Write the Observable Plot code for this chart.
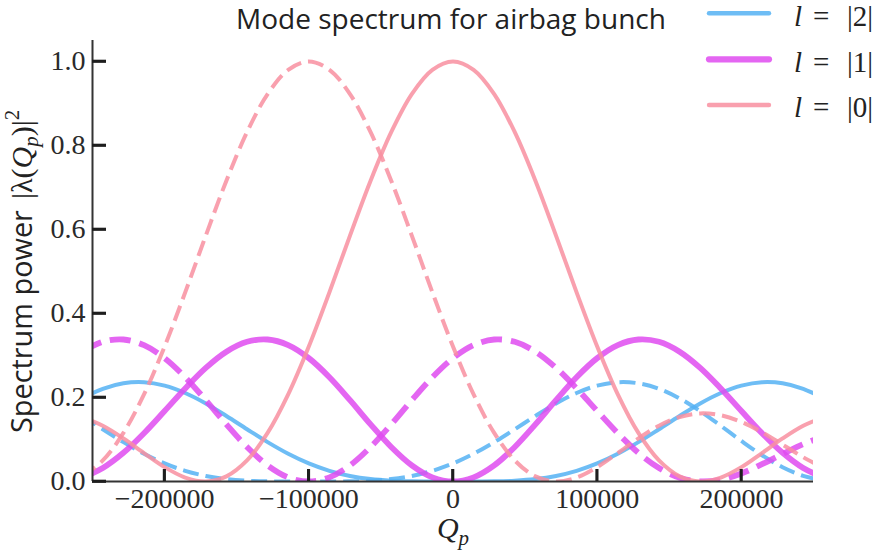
<!DOCTYPE html>
<html><head><meta charset="utf-8">
<script src="https://cdn.jsdelivr.net/npm/d3@7"></script>
<script src="https://cdn.jsdelivr.net/npm/@observablehq/plot@0.6"></script>
<style>body{margin:0;background:#fff;} #chart{width:880px;height:553px;overflow:hidden;}</style>
</head><body><div id="chart"></div>
<script>
// Qp sample positions
const qp = [-257143, -242857, -228571, -214286, -200000, -185714, -171429, -157143, -142857, -128571, -114286, -100000, -85714, -71429, -57143, -42857, -28571, -14286, 0, 14286, 28571, 42857, 57143, 71429, 85714, 100000, 114286, 128571, 142857, 157143, 171429, 185714, 200000, 214286, 228571, 242857, 257143];
// spectrum power, solid curves
const l2Solid = [0.1978, 0.2206, 0.2338, 0.2363, 0.2282, 0.2107, 0.1858, 0.1561, 0.1245, 0.0937, 0.0660, 0.0430, 0.0254, 0.0132, 0.0057, 0.0019, 0.0004, 0.0000, 0, 0.0000, 0.0004, 0.0019, 0.0057, 0.0132, 0.0254, 0.0430, 0.0660, 0.0937, 0.1245, 0.1561, 0.1858, 0.2107, 0.2282, 0.2363, 0.2338, 0.2206, 0.1978];
const l1Solid = [0.0091, 0.0321, 0.0683, 0.1150, 0.1679, 0.2216, 0.2706, 0.3091, 0.3326, 0.3381, 0.3248, 0.2937, 0.2483, 0.1937, 0.1360, 0.0822, 0.0384, 0.0099, 0, 0.0099, 0.0384, 0.0822, 0.1360, 0.1937, 0.2483, 0.2937, 0.3248, 0.3381, 0.3326, 0.3091, 0.2706, 0.2216, 0.1679, 0.1150, 0.0683, 0.0321, 0.0091];
const l0Solid = [0.1535, 0.1327, 0.1025, 0.0677, 0.0342, 0.0094, 0.0000, 0.0122, 0.0501, 0.1156, 0.2074, 0.3214, 0.4504, 0.5855, 0.7162, 0.8317, 0.9224, 0.9801, 1.0000, 0.9801, 0.9224, 0.8317, 0.7162, 0.5855, 0.4504, 0.3214, 0.2074, 0.1156, 0.0501, 0.0122, 0.0000, 0.0094, 0.0342, 0.0677, 0.1025, 0.1327, 0.1535];
// spectrum power, dashed curves
const l2Dashed = [0.1561, 0.1245, 0.0937, 0.0660, 0.0430, 0.0254, 0.0132, 0.0057, 0.0019, 0.0004, 0.0000, 0, 0.0000, 0.0004, 0.0019, 0.0057, 0.0132, 0.0254, 0.0430, 0.0660, 0.0937, 0.1245, 0.1561, 0.1858, 0.2107, 0.2282, 0.2363, 0.2338, 0.2206, 0.1978, 0.1675, 0.1326, 0.0965, 0.0626, 0.0341, 0.0135, 0.0022];
const l1Dashed = [0.3091, 0.3326, 0.3381, 0.3248, 0.2937, 0.2483, 0.1937, 0.1360, 0.0822, 0.0384, 0.0099, 0, 0.0099, 0.0384, 0.0822, 0.1360, 0.1937, 0.2483, 0.2937, 0.3248, 0.3381, 0.3326, 0.3091, 0.2706, 0.2216, 0.1679, 0.1150, 0.0683, 0.0321, 0.0091, 0.0002, 0.0044, 0.0192, 0.0411, 0.0656, 0.0891, 0.1073];
const l0Dashed = [0.0122, 0.0501, 0.1156, 0.2074, 0.3214, 0.4504, 0.5855, 0.7162, 0.8317, 0.9224, 0.9801, 1.0000, 0.9801, 0.9224, 0.8317, 0.7162, 0.5855, 0.4504, 0.3214, 0.2074, 0.1156, 0.0501, 0.0122, 0.0000, 0.0094, 0.0342, 0.0677, 0.1025, 0.1327, 0.1535, 0.1621, 0.1577, 0.1418, 0.1172, 0.0877, 0.0578, 0.0315];

const xTicks = [-200000, -100000, 0, 100000, 200000];
const yTicks = [0, 0.2, 0.4, 0.6, 0.8, 1.0];
const legendLabels = ["|2|", "|1|", "|0|"];
const titleText = "Mode spectrum for airbag bunch";

const styles = [
  {label: "|2|", color: "#55b2f3", width: 4, dash: "16,7"},
  {label: "|1|", color: "#df4bf0", width: 5.8, dash: "21,9"},
  {label: "|0|", color: "#f88fa0", width: 4, dash: "16,7"}
];
const seriesDefs = [
  {l: 0, dashed: false, vals: l2Solid}, {l: 0, dashed: true, vals: l2Dashed},
  {l: 1, dashed: false, vals: l1Solid}, {l: 1, dashed: true, vals: l1Dashed},
  {l: 2, dashed: false, vals: l0Solid}, {l: 2, dashed: true, vals: l0Dashed}
];
const OP = 0.85;
const serif = "'Liberation Serif', 'DejaVu Serif', serif";
const sans = "'Open Sans', 'Noto Sans', sans-serif";

const W = 880, H = 553, mL = 92, mR = 67, mT = 40, mB = 72;
const xDom = [-250000, 250000], yDom = [0, 1.05];

const marks = [];
for (const s of seriesDefs) {
  const st = styles[s.l];
  const rows = qp.map((x, i) => ({x, y: s.vals[i]}));
  marks.push(Plot.line(rows, {x: "x", y: "y", stroke: st.color, strokeWidth: st.width,
    strokeOpacity: OP, strokeDasharray: s.dashed ? st.dash : null, curve: "catmull-rom", clip: true,
    strokeLinecap: s.dashed ? "butt" : "square"}));
}

const chart = Plot.plot({
  width: W, height: H,
  marginLeft: mL, marginRight: mR, marginTop: mT, marginBottom: mB,
  x: {domain: xDom, label: null},
  y: {domain: yDom, label: null},
  marks: [
    ...marks,
    Plot.ruleY([yDom[0]], {stroke: "#333", strokeWidth: 2}),
    Plot.ruleX([xDom[0]], {stroke: "#333", strokeWidth: 2}),
    Plot.axisX({ticks: xTicks, tickSize: 12, dy: -12, stroke: "#1e1e1e", strokeWidth: 2.6, tickFormat: () => "", label: null}),
    Plot.axisY({ticks: yTicks, tickSize: 14, dx: 14, stroke: "#1e1e1e", strokeWidth: 2.6, tickFormat: () => "", label: null}),
    Plot.axisX({ticks: xTicks, tickSize: 0, tickPadding: 7, fill: "#2a2a2a", fontSize: 28, fontFamily: serif,
      tickFormat: d => d < 0 ? "\u2212" + Math.abs(d) : String(d), label: null}),
    Plot.axisY({ticks: yTicks, tickSize: 0, tickPadding: 7, fill: "#2a2a2a", fontSize: 28, fontFamily: serif,
      tickFormat: d3.format(".1f"), label: null})
  ]
});
document.getElementById("chart").appendChild(chart);

const svg = d3.select(chart);
svg.style("background", "white");

// inward ticks positioned through Plot's own scales
function scaleFn(name, dom, rng) {
  try {
    const s = chart.scale(name);
    if (s && typeof s.apply === "function") return v => s.apply(v);
    if (s && s.domain && s.range) return d3.scaleLinear(s.domain, s.range);
  } catch (e) {}
  return d3.scaleLinear(dom, rng);
}
const sx = scaleFn("x", xDom, [mL, W - mR]);
const sy = scaleFn("y", yDom, [H - mB, mT]);
xTicks.forEach(v => {
  const px = sx(v), py = sy(yDom[0]);
  svg.append("line").attr("x1", px).attr("x2", px).attr("y1", py).attr("y2", py - 12)
    .attr("stroke", "#1e1e1e").attr("stroke-width", 2.6);
});
yTicks.forEach(v => {
  const px = sx(xDom[0]), py = sy(v);
  svg.append("line").attr("x1", px).attr("x2", px + 14).attr("y1", py).attr("y2", py)
    .attr("stroke", "#1e1e1e").attr("stroke-width", 2.6);
});

// title
const title = svg.append("text").attr("x", 451).attr("y", 29).attr("text-anchor", "middle")
  .attr("font-family", sans).attr("font-size", 100).attr("fill", "#222").text(titleText);
const tl = title.node().getComputedTextLength();
title.attr("font-size", 100 * 430 / tl);

// y label
const yl = svg.append("g").attr("transform", "translate(32,433) rotate(-90)");
const ySans = yl.append("text").attr("text-anchor", "start").attr("font-family", sans)
  .attr("font-size", 100).attr("fill", "#222").text("Spectrum power");
const sl = ySans.node().getComputedTextLength();
ySans.attr("font-size", 100 * 223 / sl);
const ym = yl.append("text").attr("text-anchor", "start").attr("x", 234).attr("font-family", serif)
  .attr("font-size", 30).attr("fill", "#222");
ym.append("tspan").text("|\u03bb(");
ym.append("tspan").attr("font-style", "italic").text("Q");
ym.append("tspan").attr("font-style", "italic").attr("font-size", 21).attr("dy", 6).text("p");
ym.append("tspan").attr("dy", -6).text(")|");
ym.append("tspan").attr("font-size", 21).attr("dy", -13).text("2");

// x label
const xl = svg.append("text").attr("x", 453).attr("y", 538).attr("text-anchor", "middle")
  .attr("font-family", serif).attr("font-size", 30).attr("fill", "#222");
xl.append("tspan").attr("font-style", "italic").text("Q");
xl.append("tspan").attr("font-style", "italic").attr("font-size", 21).attr("dy", 7).text("p");

// legend
const legY = [13.3, 59.3, 105];
const legBase = [26, 72, 117];
styles.forEach((st, i) => {
  svg.append("line").attr("x1", 709).attr("x2", 769).attr("y1", legY[i]).attr("y2", legY[i])
    .attr("stroke", st.color).attr("stroke-opacity", OP).attr("stroke-width", st.width + 0.4)
    .attr("stroke-linecap", "round");
  const t = svg.append("text").attr("y", legBase[i]).attr("text-anchor", "start")
    .attr("font-family", serif).attr("font-size", 29).attr("fill", "#222");
  t.append("tspan").attr("x", 794).attr("font-style", "italic").text("l");
  t.append("tspan").attr("x", 813).text("=");
  t.append("tspan").attr("x", 847).text(legendLabels[i]);
});
</script>
</body></html>
